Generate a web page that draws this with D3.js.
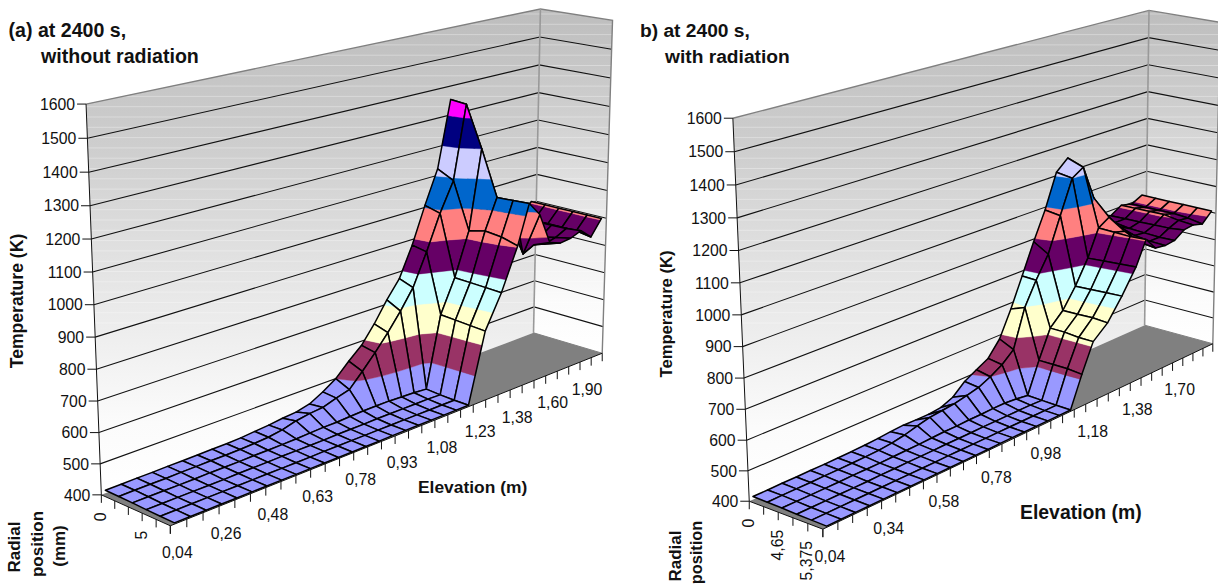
<!DOCTYPE html>
<html><head><meta charset="utf-8">
<script src="https://cdn.jsdelivr.net/npm/d3@7/dist/d3.min.js"></script>
<style>html,body{margin:0;padding:0;background:#fff;overflow:hidden}text{font-family:"Liberation Sans",Arial,sans-serif;fill:#111}</style>
</head><body><svg id="c" width="1218" height="586"></svg>
<script>
const tempTicks=[400,500,600,700,800,900,1000,1100,1200,1300,1400,1500,1600];
const bandColors=["#9999FF","#993366","#FFFFCC","#CCFFFF","#660066","#FF8080","#0066CC","#CCCCFF","#000080","#FF00FF"];
const elevLabelsA=["0,04","0,26","0,48","0,63","0,78","0,93","1,08","1,23","1,38","1,60","1,90"];
const elevLabelsB=["0,04","0,34","0,58","0,78","0,98","1,18","1,38","1,70"];
const radialLabelsA=["0","","","5","",""];
const radialLabelsB=["0","","4,65","","5,375",""];
const tempA=[
[410,409,408,406,405,404],[410,410,408,406,405,404],[411,410,408,406,405,404],[411,410,408,406,405,404],
[412,411,408,406,405,404],[412,411,409,406,405,404],[413,412,409,407,405,404],[414,412,409,407,405,404],
[414,413,410,407,405,404],[416,415,410,408,405,404],[420,418,411,408,405,404],[424,425,412,408,406,404],
[430,438,414,408,406,404],[434,446,416,409,406,404],[445,450,416,409,406,404],[470,465,418,409,406,405],
[500,478,420,410,406,405],[545,525,420,410,406,405],[585,575,420,410,406,405],[645,630,418,410,406,405],
[715,690,416,410,406,405],[776,758,412,408,406,405],[880,869,660,655,650,645],[1007,990,775,770,765,760],
[1123,1091,925,935,925,905],[1353,1345,1200,1040,1040,1040],[1150,1120,1020,960,840,990],[960,930,900,880,860,880],
[880,860,850,850,850,865],[850,850,850,850,860,870],[860,870,880,880,880,885],[860,860,860,860,860,850],
[905,905,905,905,905,905]];
const tempB=[
[410,409,408,406,405,404],[410,410,408,406,405,404],[411,410,408,406,405,404],[411,410,408,406,405,404],
[412,411,408,406,405,404],[412,411,409,406,405,404],[413,412,409,407,405,404],[414,413,409,407,405,404],
[416,415,410,408,405,404],[419,420,411,408,405,404],[423,428,412,408,406,404],[426,440,414,409,406,404],
[425,450,416,409,406,404],[425,455,416,409,406,405],[430,460,418,410,406,405],[448,470,418,410,406,405],
[486,480,420,410,406,405],[510,500,420,410,406,405],[533,525,416,410,406,405],[586,562,410,408,406,405],
[678,698,520,520,520,515],[782,780,620,620,615,615],[890,857,665,665,665,660],[990,980,735,735,735,735],
[1112,1100,820,820,820,820],[1150,1126,915,910,905,905],[1060,1000,940,900,870,860],[960,920,890,870,860,855],
[900,880,870,865,860,860],[880,880,880,880,880,885],[905,905,905,905,895,890],[895,895,895,895,890,880],
[915,915,915,915,915,915]];

const svg=d3.select("#c");
const defs=svg.append("defs");
const g=defs.append("linearGradient").attr("id","wall").attr("x1",0).attr("y1",0).attr("x2",0).attr("y2",1);
[[0,"#bdbdbd"],[.3,"#cfcfcf"],[.6,"#e9e9e9"],[.85,"#fbfbfb"],[1,"#ffffff"]].forEach(s=>g.append("stop").attr("offset",s[0]).attr("stop-color",s[1]));

function solve(A,b){const n=b.length,M=A.map((r,i)=>[...r,b[i]]);
 for(let i=0;i<n;i++){let p=i;for(let j=i+1;j<n;j++)if(Math.abs(M[j][i])>Math.abs(M[p][i]))p=j;[M[i],M[p]]=[M[p],M[i]];
  for(let j=i+1;j<n;j++){const f=M[j][i]/M[i][i];for(let k=i;k<=n;k++)M[j][k]-=f*M[i][k];}}
 const x=Array(n).fill(0);for(let i=n-1;i>=0;i--){let s=M[i][n];for(let k=i+1;k<n;k++)s-=M[i][k]*x[k];x[i]=s/M[i][i];}return x;}
function fitCamera(anchors){const rows=[],rhs=[];
 anchors.forEach(([X,Y,Z,px,py])=>{const x=px/1000,y=py/1000;
  rows.push([X,Y,Z,1,0,0,0,0,-x*X,-x*Y,-x*Z]);rhs.push(x);
  rows.push([0,0,0,0,X,Y,Z,1,-y*X,-y*Y,-y*Z]);rhs.push(y);});
 const n=11,N=d3.range(n).map(i=>d3.range(n).map(j=>d3.sum(rows,r=>r[i]*r[j]))),B=d3.range(n).map(i=>d3.sum(rows,(r,q)=>r[i]*rhs[q]));
 const p=solve(N,B);
 return (X,Y,Z)=>{const w=p[8]*X+p[9]*Y+p[10]*Z+1;return [1000*(p[0]*X+p[1]*Y+p[2]*Z+p[3])/w,1000*(p[4]*X+p[5]*Y+p[6]*Z+p[7])/w];};}

function clipBand(poly,lo,hi){
 const cut=(pts,inside,lim)=>{const out=[];pts.forEach((a,i)=>{const b=pts[(i+1)%pts.length];const ia=inside(a.z),ib=inside(b.z);
   if(ia)out.push(a);
   if(ia!==ib){const t=(lim-a.z)/(b.z-a.z);out.push({u:a.u+t*(b.u-a.u),v:a.v+t*(b.v-a.v),z:lim});}});return out;};
 let r=cut(poly,z=>z>=lo,lo);if(r.length)r=cut(r,z=>z<=hi,hi);return r;}

let chartId=0;
function drawChart(o){
 const G=svg.append("g");chartId++;
 const uS=d3.scaleLinear([0,o.temp.length-1],[0,1]),vS=d3.scaleLinear([0,5],[0,1]),zS=d3.scaleLinear([400,1600],[0,1]);
 const cam=fitCamera(o.anchors);
 const P=(k,r,z)=>cam(uS(k),vS(r),zS(z));
 const line=d3.line();const last=o.temp.length-1;
 // walls
 const backD=line([P(0,0,400),P(last,0,400),P(last,0,1600),P(0,0,1600)])+"Z",sideD=line([P(last,0,400),P(last,5,400),P(last,5,1600),P(last,0,1600)])+"Z";
 G.append("path").attr("d",backD).attr("fill","url(#wall)");
 G.append("path").attr("d",sideD).attr("fill","url(#wall)");
 const cp=defs.append("clipPath").attr("id","wc"+chartId);cp.append("path").attr("d",backD);cp.append("path").attr("d",sideD);
 const sheen=G.append("g").attr("clip-path",`url(#wc${chartId})`).attr("stroke","#fff").attr("stroke-opacity",.32).attr("stroke-width",1);
 d3.range(14,330,10.3).forEach(y=>sheen.append("line").attr("x1",o.anchors[4][3]).attr("x2",o.anchors[6][3]).attr("y1",y).attr("y2",y));
 G.append("path").attr("d",line([P(0,0,400),P(last,0,400),P(last,5,400),P(0,5,400)])+"Z").attr("fill","#808080");
 tempTicks.forEach(t=>{ if(t===400||t===1600)return;
  G.append("path").attr("d",line([P(0,0,t),P(last,0,t),P(last,5,t)])).attr("fill","none").attr("stroke","#111").attr("stroke-width",1.1);});
 G.append("path").attr("d",line([P(0,0,1600),P(last,0,1600),P(last,5,1600),P(last,5,400)])).attr("fill","none").attr("stroke","#808080").attr("stroke-width",1.4);
 G.append("path").attr("d",line([P(last,0,1600),P(last,0,400)])).attr("fill","none").attr("stroke","#999").attr("stroke-width",1.6);
 G.append("path").attr("d",line([P(last,0,400),P(last,5,400)])).attr("fill","none").attr("stroke","#808080").attr("stroke-width",1);
 // surface: Excel's surface sits slightly off the tick grid
 const uOf=(k,r)=>{const base=k<=21?k*.97+.25:20.62+(k-21)*.994;
   const skew=k<=21?0:.8*Math.min((k-21)/3,(last-k)/8);return base+skew*r/5;};
 const layer=G.append("g");
 for(let k=last-1;k>=0;k--)for(let r=0;r<5;r++){
  const q=[[k,r],[k+1,r],[k+1,r+1],[k,r+1]].map(([a,b])=>({u:uOf(a,b),v:b,z:o.temp[a][b]}));
  tempTicks.slice(0,-1).forEach((lo,i)=>{const c=clipBand(q,lo,lo+100);
   if(c.length>2){const col=bandColors[i%bandColors.length];
    layer.append("path").attr("d",line(c.map(p=>P(p.u,p.v,p.z)))+"Z").attr("fill",col).attr("stroke",col).attr("stroke-width",.4);}});
  layer.append("path").attr("d",line(q.map(p=>P(p.u,p.v,p.z)))+"Z").attr("fill","none").attr("stroke","#000").attr("stroke-width",1.5).attr("stroke-linejoin","round");
 }
 // axes
 const ax=G.append("g").attr("stroke","#111").attr("stroke-width",1).attr("fill","none");
 ax.append("path").attr("d",line([P(0,0,1600),P(0,0,400),P(0,5,400),P(last,5,400)]));
 tempTicks.forEach(t=>{const [x,y]=P(0,0,t);
  ax.append("path").attr("d",line([[x-9,y],[x,y]]));
  G.append("text").attr("x",x-11).attr("y",y+5.7).attr("text-anchor","end").attr("font-size",o.tick).text(t);});
 d3.range(0,6).forEach(r=>{const [x,y]=P(0,r,400);ax.append("path").attr("d",line([[x,y],[x,y+8]]));
  if(o.radial[r])G.append("text").attr("transform",`translate(${x+4.5},${y+17.5}) rotate(-90)`).attr("text-anchor","end").attr("font-size",o.tick).text(o.radial[r]);});
 d3.range(0,last+1).forEach(k=>{const [x,y]=P(k,5,400);ax.append("path").attr("d",line([[x,y],[x,y+8]]));
  if(k%o.step===0&&o.elev[k/o.step])G.append("text").attr("x",x+7).attr("y",y+32.5).attr("text-anchor","middle").attr("font-size",o.tick).text(o.elev[k/o.step]);});
 // titles
 const bold=(s,x,y,fs,anchor,rot)=>G.append("text").attr("transform",`translate(${x},${y})`+(rot?" rotate(-90)":"")).attr("text-anchor",anchor||"start").attr("font-weight","bold").attr("font-size",fs).text(s);
 o.titles.forEach(t=>bold(t[0],t[1],t[2],t[3]));
 bold("Temperature (K)",o.zt[0],o.zt[1],o.zt[2],"middle",true);
 bold("Elevation (m)",o.et[0],o.et[1],o.et[2]);
 o.rt.forEach(t=>bold(t[0],t[1],t[2],t[3],"middle",true));
}
drawChart({temp:tempA,step:3,tick:15.8,elev:elevLabelsA,radial:radialLabelsA,
 anchors:[[0,0,0,101.7,495],[0,1,0,170,525.7],[1,1,0,602.7,353],[1,0,0,533,333],[0,0,1,86,104],[1,0,1,540.7,8.7],[1,1,1,612.3,20.7]],
 titles:[["(a) at 2400 s,",8.5,37,19.6],["without radiation",41,63,19.6]],
 zt:[23,301,17.6],et:[418,493,17.4],rt:[["Radial",20,547,17],["position",43,544,17],["(mm)",65,546,17]]});
drawChart({temp:tempB,step:4,tick:15.8,elev:elevLabelsB,radial:radialLabelsB,
 anchors:[[0,0,0,749,501],[0,1,0,823.3,529.3],[1,1,0,1213.3,344],[1,0,0,1144,325],[0,0,1,732.7,118.3],[1,0,1,1150,10.7],[1,1,1,1219.5,22]],
 titles:[["b) at 2400 s,",640,37,19.2],["with radiation",665,63,19.2]],
 zt:[672,314,16.6],et:[1020,519,19.4],rt:[["Radial",680.7,556,17],["position",701.7,552.5,16.4]]});
</script></body></html>
